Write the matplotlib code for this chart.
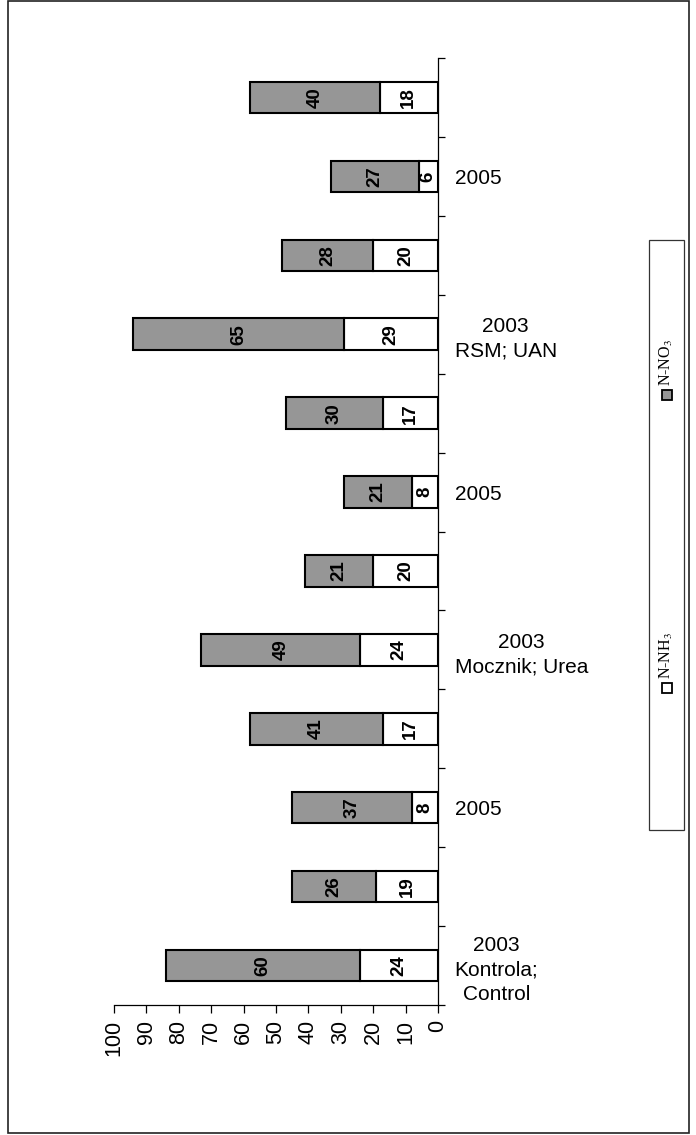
import numpy as np
import matplotlib
matplotlib.use('Agg')
import matplotlib.pyplot as plt
from matplotlib.patches import Rectangle

plt.rcParams['font.family'] = 'Liberation Sans'
plt.rcParams['mathtext.fontset'] = 'stix'

# bars from bottom to top (first category at the bottom)
cat_labels = ['2003\nKontrola;\nControl', '', '2005', '',
              '2003\nMocznik; Urea', '', '2005', '',
              '2003\nRSM; UAN', '', '2005', '']
n_nh3 = np.array([24, 19, 8, 17, 24, 20, 8, 17, 29, 20, 6, 18])
n_no3 = np.array([60, 26, 37, 41, 49, 21, 21, 30, 65, 28, 27, 40])
value_ticks = [0, 10, 20, 30, 40, 50, 60, 70, 80, 90, 100]

gray = '#969696'

fig = plt.figure(figsize=(6.96, 11.35), dpi=100)
ax = fig.add_axes([114/696, 1 - 1005/1135, (438 - 114)/696, (1005 - 58)/1135])

pos = np.arange(len(n_nh3))
ax.barh(pos, n_nh3, height=0.4, color='white', edgecolor='black', linewidth=1.5)
ax.barh(pos, n_no3, left=n_nh3, height=0.4, color=gray, edgecolor='black', linewidth=1.5)

for i in range(len(pos)):
    ax.text(n_nh3[i] / 2, pos[i], str(n_nh3[i]), rotation=90, ha='center', va='center',
            fontsize=13.5, fontweight='bold')
    ax.text(n_nh3[i] + n_no3[i] / 2, pos[i], str(n_no3[i]), rotation=90, ha='center',
            va='center', fontsize=13.5, fontweight='bold')

ax.set_xlim(100, 0)
ax.set_ylim(-0.5, len(pos) - 0.5)

for s in ['top', 'left']:
    ax.spines[s].set_visible(False)
ax.spines['right'].set_linewidth(0.9)
ax.spines['bottom'].set_linewidth(0.9)

ax.set_xticks(value_ticks)
ax.set_xticklabels([str(v) for v in value_ticks], rotation=90, fontsize=15.5)
ax.tick_params(axis='x', direction='out', length=6, width=0.9, pad=5)

ax.yaxis.tick_right()
ax.set_yticks(np.arange(-0.5, len(pos), 1.0))
ax.set_yticklabels([])
ax.set_yticks(pos, minor=True)
ax.set_yticklabels(cat_labels, minor=True, fontsize=15)
ax.tick_params(axis='y', which='major', direction='out', length=5, width=0.9)
ax.tick_params(axis='y', which='minor', length=0, pad=12)
for t in ax.get_yticklabels(minor=True):
    t.set_multialignment('center')
    t.set_linespacing(1.35)

# legend drawn by hand (rotated)
fig.patches.append(Rectangle((649/696, 1 - 830/1135), 35/696, 590/1135,
                             transform=fig.transFigure, facecolor='white',
                             edgecolor='#333333', linewidth=0.9, zorder=0))
sq = 10
for yc, fc, lab in [(688, 'white', r'N-NH$_3$'), (395, gray, r'N-NO$_3$')]:
    fig.patches.append(Rectangle(((667 - sq/2)/696, 1 - (yc + sq/2)/1135), sq/696, sq/1135,
                                 transform=fig.transFigure, facecolor=fc,
                                 edgecolor='black', linewidth=1.3))
    fig.text(666/696, 1 - (yc - 9)/1135, lab, rotation=90, ha='center', va='bottom',
             fontsize=11.5, family='Liberation Serif')

# outer frame
fig.patches.append(Rectangle((8/696, 1 - 1133/1135), 681/696, 1132/1135,
                             transform=fig.transFigure, fill=False,
                             edgecolor='#222222', linewidth=1.2))

fig.savefig('out.png', dpi=100)
